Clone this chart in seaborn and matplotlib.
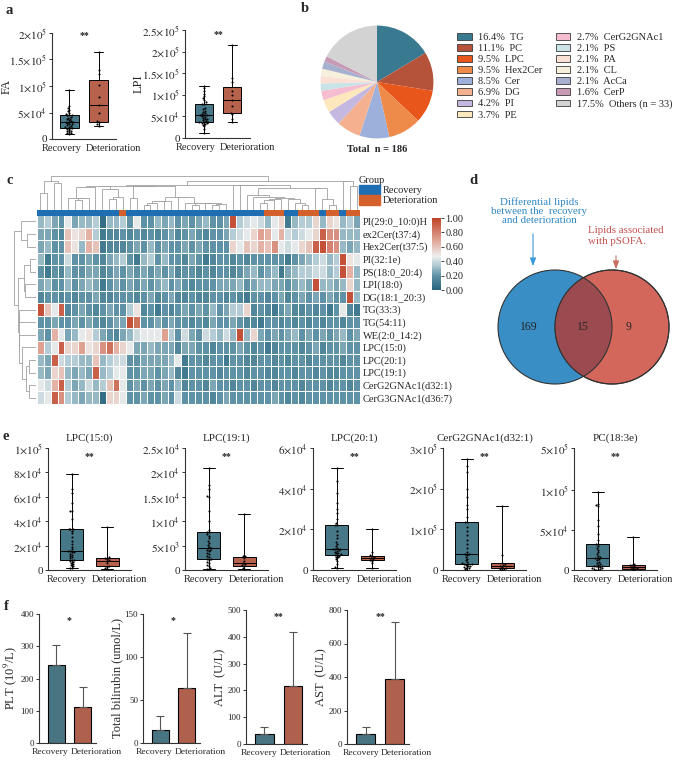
import numpy as np
import pandas as pd
import seaborn as sns
import matplotlib
matplotlib.use("Agg")
import matplotlib.pyplot as plt
from matplotlib.patches import Patch, Circle
from matplotlib.colors import LinearSegmentedColormap, ListedColormap

# ---------------- data ----------------
groups = ["Recovery", "Deterioration"]
teal, red = "#3c7d92", "#c9573a"

# panel a (values in 1e3)
fa_rec = [9.4, 11, 12, 13.5, 15, 16, 17.5, 19, 20.7, 20.7, 22, 23.5, 25, 26, 27.5, 28.5, 30, 31.4,
          31.4, 33, 34, 35.5, 37, 38.5, 40, 42, 44.7, 44.7, 46, 48, 50, 52, 55, 58, 63, 92]
fa_det = [25, 28, 32, 34, 50, 65, 80, 102, 122, 130, 164]
lpi_rec = [11, 20, 27, 31, 33, 34, 35, 36, 37.5, 37.5, 39, 41, 43, 45, 47, 49, 51, 52.6,
           52.6, 54, 56, 58, 60, 63, 66, 70, 79.6, 79.6, 83, 88, 92, 97, 102, 108, 115, 120]
lpi_det = [36, 45, 55, 59, 75, 88.6, 100, 108, 130, 140, 216]

# panel b
lipid_classes = ["TG", "PC", "LPC", "Hex2Cer", "Cer", "DG", "PI", "PE",
                 "CerG2GNAc1", "PS", "PA", "CL", "AcCa", "CerP", "Others (n = 33)"]
class_pct = [16.4, 11.1, 9.5, 9.5, 8.5, 6.9, 4.2, 3.7, 2.7, 2.1, 2.1, 2.1, 2.1, 1.6, 17.5]
class_colors = ["#3a7a90", "#b5533a", "#e8561c", "#ee8a4a", "#9db0dc", "#f5b08f", "#c4b8e0",
                "#fde7bd", "#f6bcd0", "#c9e3e6", "#fbe0d6", "#f6efdc", "#a7b1cf", "#c79ab5", "#d3d3d3"]

# panel c
lipid_names = ["PI(29:0_10:0)H", "ex2Cer(t37:4)", "Hex2Cer(t37:5)", "PI(32:1e)", "PS(18:0_20:4)",
               "LPI(18:0)", "DG(18:1_20:3)", "TG(33:3)", "TG(54:11)", "WE(2:0_14:2)",
               "LPC(15:0)", "LPC(20:1)", "LPC(19:1)", "CerG2GNAc1(d32:1)", "CerG3GNAc1(d36:7)"]
group_runs = [("Recovery", 12), ("Deterioration", 1), ("Recovery", 20), ("Deterioration", 3),
              ("Recovery", 2), ("Deterioration", 3), ("Recovery", 1), ("Deterioration", 2),
              ("Recovery", 1), ("Deterioration", 2)]
# scaled 0-10
heat_scores = [
    [3, 3.5, 2.5, 2, 4.5, 2.5, 3, 3, 3.5, 0.5, 3, 3, 3.5, 2, 4.5, 2, 2, 3, 2.5, 3, 2, 2.5, 2,
     2.5, 3, 2, 2, 2.5, 9.5, 3.5, 4, 4.5, 4, 3, 4.5, 5.5, 1, 3, 3.5, 3.5, 5.5, 3, 5.5, 5, 3, 3.5, 2.5],
    [2.5, 2.5, 2, 1.5, 6, 5, 5.5, 6.5, 3.5, 1, 1.5, 1.5, 2, 1.5, 2, 1.5, 2, 1.5, 2, 2.5, 1.5, 2, 2.5,
     2, 1.5, 2, 2, 2.5, 3.5, 4, 4.5, 5.5, 7, 6.5, 4.5, 6.5, 4, 3.5, 4, 4.5, 5.5, 9, 7.5, 7.5, 3, 3, 3],
    [2.5, 3, 2, 2, 6, 5, 3, 6.5, 6, 1, 1.5, 1.5, 1.5, 2, 2.5, 2, 3, 2, 2.5, 2, 2, 2.5, 2,
     2.5, 2, 2, 2, 2, 5.5, 4.5, 6, 5.5, 6.5, 6, 7.5, 4.5, 4, 4.5, 5.5, 6, 9, 9.5, 8, 7.5, 3, 2.5, 3],
    [3, 1, 2, 2, 4, 2, 2, 2.5, 2, 1.5, 2.5, 3, 3.5, 2, 1, 3, 3.5, 2, 3, 2, 2, 1.5, 2.5,
     2, 1, 1.5, 2, 2, 1.5, 2, 1.5, 2, 2, 2, 2, 2, 1, 2, 2.5, 3, 3.5, 4, 3, 3.5, 9.5, 5, 4.5],
    [2, 1, 2, 1.5, 3, 2, 2, 2.5, 2.5, 1.5, 2, 2.5, 2, 2.5, 2, 2.5, 2, 2.5, 2, 2.5, 1.5, 2, 2,
     1.5, 2, 1.5, 2, 2, 1.5, 2, 2.5, 3, 2, 2.5, 3, 1, 2.5, 3, 3.5, 3.5, 4, 4, 3, 3.5, 9.5, 6.5, 3],
    [2.5, 3, 2, 2, 3, 2, 2.5, 3, 2.5, 1, 2, 2.5, 2, 2.5, 2, 2.5, 2, 2.5, 3, 2, 2.5, 2, 1.5,
     2, 2, 2, 2.5, 2.5, 2.5, 3, 2, 2.5, 3, 3, 2.5, 2.5, 2, 2.5, 3, 2.5, 9.5, 3, 3, 2.5, 3, 5.5, 3],
    [1.5, 2, 2, 1.5, 2, 1.5, 2, 2, 2.5, 1.5, 1.5, 2, 2, 2, 1.5, 2, 2.5, 1.5, 2, 2.5, 1.5, 1.5, 2,
     1.5, 1.5, 2, 2, 1.5, 2, 1.5, 1, 2, 2, 1.5, 2, 2.5, 1.5, 2, 2.5, 2, 2.5, 2, 2.5, 2, 2, 9.5, 3],
    [9.5, 6, 4.5, 9, 1.5, 2, 2.5, 2, 1.5, 2, 2.5, 2, 2, 3.5, 5, 1.5, 2, 1, 2, 1.5, 2, 2.5, 2,
     2.5, 2, 3, 2, 2.5, 3.5, 3.5, 5.5, 1.5, 2, 1.5, 1, 2, 2.5, 1.5, 1.5, 2, 1.5, 2, 1, 2, 4.5, 1.5, 1],
    [2, 2, 2.5, 2, 2, 2.5, 2, 2.5, 2, 1.5, 2, 2.5, 2.5, 9.5, 8.5, 2, 2, 2.5, 2, 2.5, 2, 2, 1.5,
     2, 1.5, 2.5, 2, 2, 2.5, 2, 1.5, 1.5, 1, 2, 2, 1.5, 2, 1.5, 2, 1.5, 2, 1.5, 2, 2, 1.5, 2, 2],
    [2.5, 2, 6.5, 4.5, 2.5, 3, 4.5, 5, 3.5, 2.5, 2, 1.5, 2.5, 3, 4, 4.5, 4.5, 4.5, 7, 3.5, 2, 4, 2.5,
     2, 4, 3.5, 3, 4, 3, 9.5, 3, 5.5, 2.5, 2, 2.5, 2, 2.5, 3, 2, 2.5, 2, 2.5, 2, 2.5, 3, 2, 2.5],
    [7, 3.5, 4.5, 9, 5.5, 5.5, 7, 5, 5.5, 7.5, 8.5, 6.5, 5.5, 4.5, 2.5, 2.5, 3, 2.5, 2.5, 2.5, 1.5, 2.5, 2.5,
     2, 2, 1.5, 2, 2, 2, 2.5, 2, 1.5, 2, 1, 1.5, 2, 2, 2, 1.5, 2, 2.5, 1.5, 2, 2, 2.5, 2, 2],
    [3, 2.5, 9, 4, 3.5, 3.5, 3, 3, 6, 3, 3.5, 4, 4, 2, 2, 2.5, 2.5, 2.5, 2.5, 3, 4.5, 1, 2,
     2, 1.5, 2, 2, 1, 2, 2, 1.5, 1.5, 2, 2, 1.5, 2, 1.5, 2, 2, 1.5, 2, 2, 2, 2, 1.5, 2, 2],
    [3, 2.5, 5.5, 6, 3, 2.5, 3, 2.5, 9, 3, 3.5, 4.5, 4.5, 2, 2, 2.5, 2.5, 2, 2.5, 3, 1.5, 1, 2,
     2, 2, 2, 1.5, 2, 2, 2, 1.5, 2, 2, 1.5, 1.5, 2, 2, 1.5, 2, 2, 1.5, 2, 1.5, 1.5, 2, 2, 2],
    [4.5, 4, 6.5, 9, 3.5, 2.5, 3, 4, 3, 3.5, 6, 8.5, 4.5, 2, 2.5, 2, 2.5, 2, 2.5, 2, 3, 1.5, 2,
     2, 1.5, 2.5, 2, 2, 1.5, 2, 2, 1.5, 2, 2, 1.5, 2, 2, 2, 1.5, 2, 2, 2, 1.5, 2, 2, 1.5, 2],
    [4, 4.5, 9, 7.5, 3.5, 3, 2.5, 3, 3, 0.5, 5.5, 5.5, 4.5, 2, 2, 2.5, 2, 2, 2.5, 2, 4, 2, 2,
     2, 2, 1.5, 2, 2.5, 2, 2, 2, 2, 2, 2, 2.5, 2, 1.5, 2, 1.5, 2, 2, 2, 2, 2, 2, 2, 2],
]

# panel d
venn_counts = [169, 15, 9]

# panel e (values in 1e3)
e_titles = ["LPC(15:0)", "LPC(19:1)", "LPC(20:1)", "CerG2GNAc1(d32:1)", "PC(18:3e)"]
e_rec = [
    [1.4, 2, 3, 4, 5, 6, 6.8, 7.5, 8.5, 8.5, 9.5, 10.5, 11.5, 12.5, 13.5, 14.5, 15, 15.7, 15.7,
     17, 19, 21, 24, 27, 30, 32, 33.3, 33.3, 34, 42, 48, 48.5, 55, 63, 66, 79],
    [0.2, 0.3, 0.5, 0.8, 1.1, 1.4, 1.7, 2.0, 2.26, 2.26, 2.6, 2.9, 3.2, 3.5, 3.8, 4.0, 4.2, 4.45,
     4.45, 4.8, 5.2, 5.6, 6.0, 6.5, 7.0, 7.3, 7.74, 7.74, 8.2, 10, 12, 15, 15.2, 16.5, 17.5, 21],
    [0.8, 1.5, 3, 4.5, 5.5, 6.2, 6.6, 7, 7.4, 7.4, 7.8, 8.2, 8.6, 9, 9.4, 9.8, 10.1, 10.4, 10.4,
     11, 12, 13, 14, 15.5, 17, 19, 22, 22, 23, 25, 28, 30, 33, 38, 44, 50.4],
    [0.5, 2, 4, 6, 8, 10, 11, 12.5, 14, 14, 15, 17, 20, 24, 28, 32, 36, 39, 39, 45, 55, 65, 75,
     85, 95, 105, 118, 118, 130, 150, 160, 180, 200, 240, 255, 272],
    [0.2, 0.6, 1, 1.5, 2, 2.6, 3.2, 3.9, 4.6, 4.6, 5.5, 6.5, 7.5, 9, 10.5, 12, 13.5, 14.7, 14.7,
     16, 18, 20, 22, 25, 27, 30, 33, 33, 38, 45, 55, 62, 80, 81, 83, 97],
]
e_det = [
    [0.8, 1.5, 2.8, 3.2, 5.5, 7.2, 8, 9.2, 10, 10.5, 35],
    [0.2, 0.5, 0.8, 0.98, 1.2, 1.4, 1.8, 2.5, 2.84, 2.9, 11.5],
    [1, 3.5, 4.6, 5, 5.5, 6, 6.4, 6.9, 7.3, 9, 20.3],
    [0.3, 1.5, 3.5, 4.5, 8, 10.7, 13, 15, 18, 38, 157],
    [0.2, 1, 1.5, 1.9, 3, 4, 5, 6, 6.6, 8, 41],
]
e_yticks = [[0, 2e4, 4e4, 6e4, 8e4, 1e5], [0, 5e3, 1e4, 1.5e4, 2e4, 2.5e4],
            [0, 2e4, 4e4, 6e4], [0, 1e5, 2e5, 3e5], [0, 5e4, 1e5, 5e5]]

# panel f
f_labels = [r"PLT (10$^{9}$/L)", "Total bilirubin (umol/L)", "ALT  (U/L)", "AST  (U/L)"]
f_mean = [[242, 112], [15, 63.6], [37, 216], [62, 390]]
f_sd = [[62, 63], [16.4, 64.4], [26, 201], [37.5, 340]]
f_stars = ["*", "*", "**", "**"]
f_yticks = [[0, 100, 200, 300, 400], [0, 50, 100, 150], [0, 100, 200, 300, 400, 500],
            [0, 200, 400, 600, 800]]

# ---------------- style ----------------
sns.set_theme(style="ticks")
plt.rcParams["font.family"] = ["Liberation Serif", "DejaVu Serif"]
plt.rcParams["mathtext.fontset"] = "stix"
plt.rcParams["axes.linewidth"] = 0.8
plt.rcParams["axes.edgecolor"] = "#333333"

W, H = 677, 765
fig = plt.figure(figsize=(W / 100, H / 100), dpi=100)


def rect(l, t, w, h):
    return [l / W, 1 - (t + h) / H, w / W, h / H]


def sci(v):
    if v == 0:
        return "0"
    e = int(np.floor(np.log10(v) + 1e-9))
    m = round(v / 10 ** e, 2)
    return rf"${m:g}{{\times}}10^{{{e}}}$"


def style_axes(ax, xfs, yfs, gap=0.07):
    sns.despine(ax=ax)
    # group names sit either side of the gap between the two boxes
    ax.set_xticks([0.5 - gap, 0.5 + gap])
    ax.set_xticklabels(groups)
    labs = ax.get_xticklabels()
    labs[0].set_ha("right")
    labs[1].set_ha("left")
    ax.tick_params(axis="x", length=0, pad=3.5, labelsize=xfs)
    ax.tick_params(axis="y", length=2.5, width=0.7, pad=1, labelsize=yfs, color="#333333")
    ax.set_xlabel("")


def box_panel(box, rec, det, yticks, xlim, ylabel="", title=None, star_y=0.93, yfunc=None,
              ylab_x=None):
    ax = fig.add_axes(rect(*box))
    df = pd.DataFrame({"group": ["Recovery"] * len(rec) + ["Deterioration"] * len(det),
                       "value": np.r_[rec, det] * 1e3})
    if yfunc is not None:
        ax.set_yscale("function", functions=yfunc)
    ax.set_ylim(0, yticks[-1])
    sns.boxplot(data=df, x="group", y="value", hue="group", order=groups, hue_order=groups,
                palette=[teal, red], width=0.65, whis=(0, 100), fliersize=0, linecolor="black",
                linewidth=0.7, legend=False, ax=ax)
    sns.swarmplot(data=df, x="group", y="value", order=groups, color="black", size=1.5,
                  ax=ax, zorder=3, warn_thresh=1)
    ax.set_xlim(*xlim)
    ax.set_ylim(0, yticks[-1])
    ax.set_yticks(yticks)
    ax.set_yticklabels([sci(v) for v in yticks])
    style_axes(ax, 7.5, 8)
    ax.set_ylabel(ylabel, fontsize=9)
    if ylab_x is not None:
        ax.yaxis.set_label_coords(ylab_x, 0.5)
    if title:
        ax.set_title(title, fontsize=8, pad=5)
    ax.text(0.5, star_y, "**", transform=ax.get_xaxis_transform(), ha="center", va="center",
            fontsize=7, fontweight="bold")
    return ax


def label(x, y, s):
    fig.text(x / W, 1 - y / H, s, fontsize=10.5, fontweight="bold", ha="center", va="center")


# ---------------- a ----------------
label(9, 11, "a")
box_panel((52, 33, 64, 106), fa_rec, fa_det, [0, 5e4, 1e5, 1.5e5, 2e5], (-0.6, 1.6), "FA",
          star_y=0.98, ylab_x=-0.62)
box_panel((185, 30, 65, 108), lpi_rec, lpi_det, [0, 5e4, 1e5, 1.5e5, 2e5, 2.5e5], (-0.68, 1.64), "LPI",
          star_y=0.96, ylab_x=-0.62)

# ---------------- b ----------------
label(305, 9, "b")
ax_p = fig.add_axes(rect(320, 25, 114, 114))
ax_p.pie(class_pct, colors=class_colors, startangle=90, counterclock=False,
         wedgeprops=dict(linewidth=0))
ax_p.set_xlim(-1.01, 1.01)
ax_p.set_ylim(-1.01, 1.01)
ax_p.set_aspect("equal")
fig.text(377 / W, 1 - 150 / H, "Total  n = 186", ha="center", va="center", fontsize=7.5,
         fontweight="bold")
handles = [Patch(facecolor=c, edgecolor="#3a3a3a", linewidth=0.6) for c in class_colors]
texts = [f"{p}%  {n}" for p, n in zip(class_pct, lipid_classes)]
fig.legend(handles, texts, ncol=2, loc="upper left", bbox_to_anchor=(457 / W, 1 - 33 / H),
           frameon=False, fontsize=7.5, handlelength=1.4, handleheight=0.6, handletextpad=0.6,
           labelspacing=0.2, columnspacing=1.3, borderaxespad=0, borderpad=0)

# ---------------- c ----------------
label(10, 180, "c")
heat = pd.DataFrame(np.array(heat_scores) / 10.0, index=lipid_names)
n_rows, n_cols = heat.shape
sample_groups = [g for g, n in group_runs for _ in range(n)]

cmap = LinearSegmentedColormap.from_list(
    "tealred", [(0, "#27637c"), (0.2, "#5f92a6"), (0.35, "#b5ccd5"), (0.47, "#eeeeee"),
                (0.65, "#e3b2a5"), (1.0, "#bf4226")])
ax_h = fig.add_axes(rect(37, 215, 323, 189))
cax = fig.add_axes(rect(432, 218, 9, 72))
sns.heatmap(heat, ax=ax_h, cmap=cmap, vmin=0, vmax=1, linewidths=0.6, linecolor="white",
            cbar_ax=cax, xticklabels=False, yticklabels=True)
ax_h.yaxis.tick_right()
ax_h.set_yticklabels(lipid_names, rotation=0, fontsize=7.5)
ax_h.tick_params(axis="y", length=0, pad=2)
ax_h.set_ylabel("")
cax.set_yticks([0, 0.2, 0.4, 0.6, 0.8, 1.0])
cax.set_yticklabels([f"{v:.2f}" for v in [0, 0.2, 0.4, 0.6, 0.8, 1.0]])
cax.tick_params(labelsize=7.5, length=2, width=0.6, pad=1)

grp_blue, grp_orange = "#1f6eb3", "#d4602b"
ax_g = fig.add_axes(rect(37, 210, 323, 5.5))
codes = np.array([[0 if g == "Recovery" else 1 for g in sample_groups]])
sns.heatmap(codes, ax=ax_g, cmap=ListedColormap([grp_blue, grp_orange]), vmin=0, vmax=1,
            cbar=False, xticklabels=False, yticklabels=False)

fig.legend([Patch(color=grp_blue), Patch(color=grp_orange)], groups, title="Group",
           loc="upper left", bbox_to_anchor=(359 / W, 1 - 176 / H), frameon=False,
           fontsize=7.5, title_fontsize=7.5, handlelength=2.0, handleheight=1.0,
           handletextpad=0.3, labelspacing=0.0, borderaxespad=0, borderpad=0,
           alignment="left")


def ordered_tree(X):
    # average-linkage merging of neighbours only, so the tree fits the shown order
    X = np.asarray(X)
    clusters = [([i], i + 0.5, 0.0) for i in range(len(X))]
    segs = []
    while len(clusters) > 1:
        d = [np.mean(np.linalg.norm(X[a][:, None, :] - X[b][None, :, :], axis=2))
             for (a, _, _), (b, _, _) in zip(clusters[:-1], clusters[1:])]
        j = int(np.argmin(d))
        (ma, pa, ha), (mb, pb, hb) = clusters[j], clusters[j + 1]
        h = max(d[j], ha, hb)
        segs.append(([pa, pa, pb, pb], [ha, h, h, hb]))
        clusters[j:j + 2] = [(ma + mb, (pa + pb) / 2, h)]
    return segs, clusters[0][2]


col_segs, col_top = ordered_tree(heat.values.T)
ax_cd = fig.add_axes(rect(37, 175, 323, 35))
for xs, ys in col_segs:
    ax_cd.plot(xs, ys, color="#a0a0a0", lw=0.6)
ax_cd.set_xlim(0, n_cols)
ax_cd.set_ylim(0, col_top * 1.02)
ax_cd.axis("off")

row_segs, row_top = ordered_tree(heat.values)
ax_rd = fig.add_axes(rect(14, 215, 22, 189))
for ys, xs in row_segs:
    ax_rd.plot(xs, ys, color="#a0a0a0", lw=0.6)
ax_rd.set_ylim(n_rows, 0)
ax_rd.set_xlim(row_top * 1.02, 0)
ax_rd.axis("off")

# ---------------- d ----------------
label(473, 180, "d")
ax_v = fig.add_axes(rect(470, 180, 207, 220))
ax_v.set_xlim(0, 207)
ax_v.set_ylim(220, 0)
ax_v.set_aspect("equal")
ax_v.axis("off")
c_left = Circle((85, 147), 57, facecolor="#3a8ec6", edgecolor="#333333", lw=0.8)
c_right = Circle((142, 147), 57, facecolor="#d3675c", edgecolor="#333333", lw=0.8)
ax_v.add_patch(c_left)
ax_v.add_patch(c_right)
c_mid = Circle((85, 147), 57, facecolor="#9b4b50", edgecolor="#333333", lw=0.8)
ax_v.add_patch(c_mid)
c_mid.set_clip_path(c_right)
ax_v.add_patch(Circle((142, 147), 57, facecolor="none", edgecolor="#333333", lw=0.8))
for x, n in zip([59, 113, 159], venn_counts):
    ax_v.text(x, 147, str(n), ha="center", va="center", fontsize=8.5)
ax_v.text(69, 31, "Differential lipids\nbetween the  recovery\nand deterioration", ha="center",
          va="center", fontsize=7.8, color="#2e86c1", linespacing=1.0)
ax_v.annotate("", xy=(63, 89), xytext=(63, 51),
              arrowprops=dict(arrowstyle="-|>,head_width=0.15,head_length=0.4", color="#3a9ad6", lw=0.8))
ax_v.text(118, 56, "Lipids associated\nwith pSOFA.", ha="left", va="center", fontsize=7.8,
          color="#c0504d", linespacing=1.15)
ax_v.annotate("", xy=(146, 92), xytext=(146, 73),
              arrowprops=dict(arrowstyle="-|>,head_width=0.15,head_length=0.4", color="#c96a5f", lw=0.8))

# ---------------- e ----------------
label(6, 437, "e")
pc_k = 0.131


def pc_fwd(y):
    y = np.asarray(y, dtype=float)
    return np.where(y <= 1e5, y, 1e5 + (y - 1e5) * pc_k)


def pc_inv(y):
    y = np.asarray(y, dtype=float)
    return np.where(y <= 1e5, y, 1e5 + (y - 1e5) / pc_k)


e_left = [48, 185, 313, 443, 574]
for i in range(5):
    box_panel((e_left[i], 448, 83, 122), e_rec[i], e_det[i], e_yticks[i], (-0.68, 1.68),
              title=e_titles[i], star_y=0.93, yfunc=(pc_fwd, pc_inv) if i == 4 else None)

# ---------------- f ----------------
label(6, 606, "f")
f_box = [(39, 614, 57, 129), (143, 614, 57, 129), (246, 610, 61, 134), (347, 610, 62, 134)]
for i in range(4):
    ax = fig.add_axes(rect(*f_box[i]))
    sns.barplot(x=groups, y=f_mean[i], hue=groups, palette=["#3f7a8c", "#c0573c"], width=0.65,
                edgecolor="black", linewidth=0.8, errorbar=None, legend=False, ax=ax)
    ax.errorbar([0, 1], f_mean[i], yerr=[[0, 0], f_sd[i]], fmt="none", ecolor="#555555",
                elinewidth=0.8, capsize=3, capthick=0.8, zorder=1)
    ax.set_xlim(-0.65, 1.5)
    ax.set_ylim(0, f_yticks[i][-1])
    ax.set_yticks(f_yticks[i])
    style_axes(ax, 6.8, 6.5, gap=0.03)
    ax.set_ylabel(f_labels[i], fontsize=9, labelpad=1)
    ax.text(0.5, 0.95, f_stars[i], transform=ax.get_xaxis_transform(), ha="center",
            va="center", fontsize=7, fontweight="bold")

fig.savefig("out.png", dpi=100)
